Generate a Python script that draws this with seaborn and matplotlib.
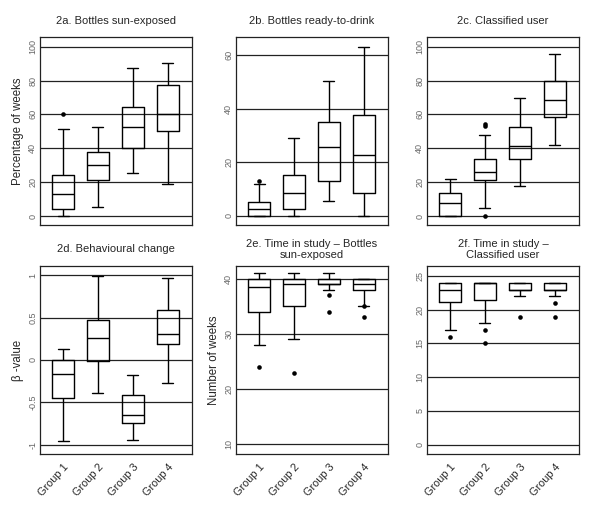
import numpy as np
import pandas as pd
import seaborn as sns
import matplotlib.pyplot as plt

sns.set_style("white")
plt.rcParams["font.family"] = ["Liberation Sans", "DejaVu Sans"]

groups = ["Group 1", "Group 2", "Group 3", "Group 4"]

# five-number summaries per group: [low whisker, q1, median, q3, high whisker]
a_stats = [[0, 4.3, 12.8, 24, 51.4], [5.1, 21, 30, 37.6, 52.6],
           [25.6, 40.4, 52.4, 64.2, 87.2], [18.7, 50.2, 60, 77.6, 90.2]]
a_out = [[60], [], [], []]

b_stats = [[0, 0, 2.7, 5.1, 12], [0, 2.7, 8.5, 15.2, 29],
           [5.6, 12.9, 25.8, 35, 50.2], [0, 8.7, 22.7, 37.5, 63.2]]
b_out = [[13.1], [], [], []]

c_stats = [[0, 0, 7.7, 13.4, 21.7], [4.5, 21.1, 25.8, 33.5, 47.6],
           [17.5, 33.9, 41.3, 52.6, 69.5], [41.7, 58.5, 68.5, 79.5, 95.9]]
c_out = [[], [54.3, 53.1, 0], [], []]

d_stats = [[-0.96, -0.45, -0.165, 0.0, 0.126], [-0.39, -0.016, 0.256, 0.476, 0.99],
           [-0.94, -0.744, -0.646, -0.41, -0.173], [-0.272, 0.189, 0.303, 0.594, 0.972]]
d_out = [[], [], [], []]

e_stats = [[28, 34, 38.5, 40, 41], [29, 35, 39, 40, 41],
           [38, 39, 39, 40, 41], [35, 38, 39, 40, 40]]
e_out = [[24], [23], [37, 34], [35, 33]]

f_stats = [[17, 21.1, 23, 24, 24], [18, 21.5, 24, 24, 24],
           [22, 23, 23, 24, 24], [22, 23, 23, 24, 24]]
f_out = [[16], [17, 15], [19], [21, 19]]

titles = ["2a. Bottles sun-exposed", "2b. Bottles ready-to-drink", "2c. Classified user",
          "2d. Behavioural change", "2e. Time in study \u2013 Bottles\nsun-exposed",
          "2f. Time in study \u2013\nClassified user"]
ylabels = ["Percentage of weeks", "", "", "\u03b2 -value", "Number of weeks", ""]
yticks = [[0, 20, 40, 60, 80, 100], [0, 20, 40, 60], [0, 20, 40, 60, 80, 100],
          [-1, -0.5, 0, 0.5, 1], [10, 20, 30, 40], [0, 5, 10, 15, 20, 25]]
yticklabels = [None, None, None, ["-1", "-0.5", "0", "0.5", "1"], None, None]
ylims = [(-5.3, 105.7), (-3.4, 66.8), (-5.3, 105.7), (-1.11, 1.11), (8.2, 42.35), (-1.4, 26.5)]

all_stats = [a_stats, b_stats, c_stats, d_stats, e_stats, f_stats]
all_out = [a_out, b_out, c_out, d_out, e_out, f_out]

W, H = 600, 512
fig = plt.figure(figsize=(W / 100, H / 100), dpi=100)

col_left = [40, 236, 427]
row_top = [37, 266]
ax_w, ax_h = 152, 188
title_cy = [21.5, 249.5]

for i in range(6):
    r, c = divmod(i, 3)
    left, top = col_left[c], row_top[r]
    ax = fig.add_axes([left / W, 1 - (top + ax_h) / H, ax_w / W, ax_h / H])

    df = pd.DataFrame([(g, v) for g, s in zip(groups, all_stats[i]) for v in s],
                      columns=["group", "value"])
    sns.boxplot(data=df, x="group", y="value", order=groups, whis=(0, 100),
                width=0.63, fill=False, color="black", linewidth=1.0,
                fliersize=0, ax=ax)
    outs = [(g, v) for g, o in zip(groups, all_out[i]) for v in o]
    if outs:
        dfo = pd.DataFrame(outs, columns=["group", "value"])
        sns.stripplot(data=dfo, x="group", y="value", order=groups, jitter=False,
                      color="black", size=3.3, ax=ax, zorder=5)

    ax.set_xlim(-0.66, 3.70)
    ax.set_ylim(*ylims[i])
    ax.set_yticks(yticks[i])
    if yticklabels[i] is not None:
        ax.set_yticklabels(yticklabels[i])
    ax.yaxis.grid(True, color="#222222", linewidth=0.9)
    ax.xaxis.grid(False)
    ax.set_axisbelow(True)
    for sp in ax.spines.values():
        sp.set_visible(True)
        sp.set_color("#222222")
        sp.set_linewidth(0.9)
    ax.tick_params(axis="y", length=0, labelsize=6.5, labelcolor="#666666", pad=2)
    for lab in ax.get_yticklabels():
        lab.set_rotation(90)
        lab.set_va("center")
        lab.set_ha("right")
    ax.set_xlabel("")
    ax.set_ylabel(ylabels[i], fontsize=8.3, labelpad=3)
    if r == 0:
        ax.tick_params(axis="x", length=0, labelbottom=False)
    else:
        ax.tick_params(axis="x", length=0, labelsize=7.8, pad=6)
        for lab in ax.get_xticklabels():
            lab.set_rotation(48)
            lab.set_ha("right")
            lab.set_va("top")
            lab.set_rotation_mode("anchor")
    fig.text((left + ax_w / 2) / W, 1 - title_cy[r] / H, titles[i], ha="center",
             va="center", fontsize=8.0, linespacing=1.15)

fig.savefig("out.png", dpi=100)
